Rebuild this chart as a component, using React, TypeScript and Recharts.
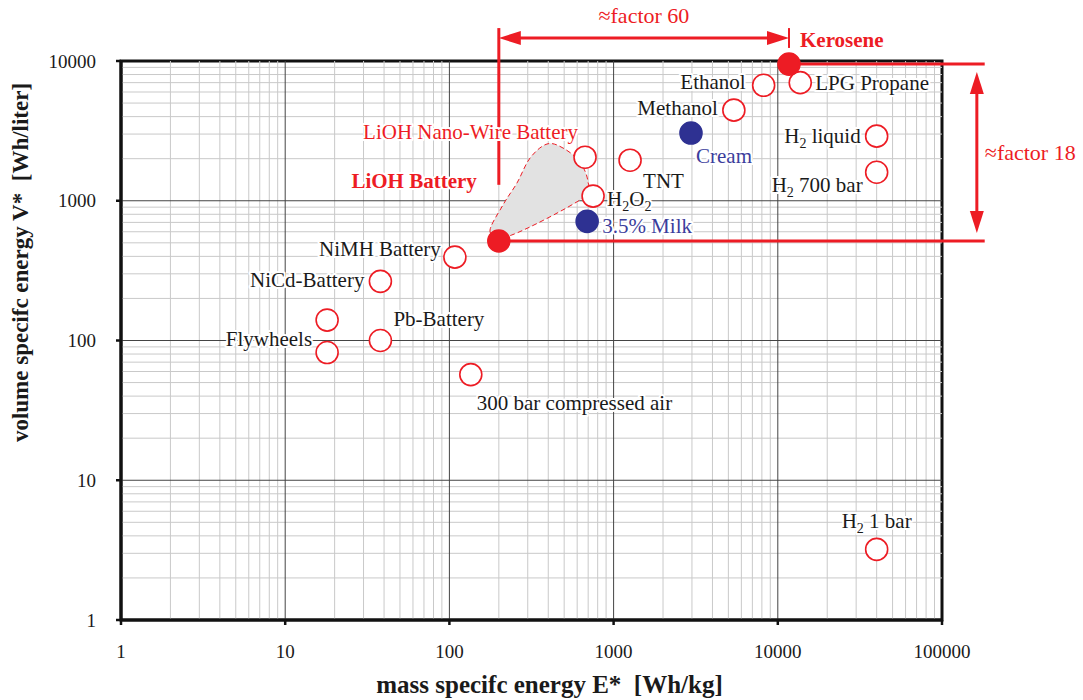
import React from 'react';
import { ScatterChart, Scatter, XAxis, YAxis, ReferenceLine, ReferenceArea } from 'recharts';

// axis ticks
const xDecades = [1, 10, 100, 1000, 10000, 100000];
const yDecades = [1, 10, 100, 1000, 10000];
const minorSteps = [2, 3, 4, 5, 6, 7, 8, 9];

// energy carriers (open red circles)
const openPoints = [
  { name: 'LPG Propane', x: 13700, y: 7000 },
  { name: 'Ethanol', x: 8200, y: 6700 },
  { name: 'Methanol', x: 5400, y: 4450 },
  { name: 'TNT', x: 1260, y: 1950 },
  { name: 'LiOH Nano-Wire Battery', x: 670, y: 2050 },
  { name: 'H2O2', x: 750, y: 1080 },
  { name: 'NiMH Battery', x: 108, y: 395 },
  { name: 'NiCd-Battery', x: 38, y: 265 },
  { name: 'Flywheels-top', x: 18, y: 140 },
  { name: 'Flywheels', x: 18, y: 82 },
  { name: 'Pb-Battery', x: 38, y: 100 },
  { name: '300 bar compressed air', x: 135, y: 57 },
  { name: 'H2 liquid', x: 40000, y: 2900 },
  { name: 'H2 700 bar', x: 40000, y: 1600 },
  { name: 'H2 1 bar', x: 40000, y: 3.2 },
];

// highlighted (filled red)
const keyPoints = [
  { name: 'Kerosene', x: 11700, y: 9500 },
  { name: 'LiOH Battery', x: 200, y: 515 },
];

// food (filled blue)
const foodPoints = [
  { name: 'Cream', x: 2960, y: 3050 },
  { name: '3.5% Milk', x: 690, y: 712 },
];

// outline of the LiOH battery potential region
const liohRegion = [
  { x: 177, y: 597 },
  { x: 212, y: 933 },
  { x: 258, y: 1340 },
  { x: 310, y: 2023 },
  { x: 393, y: 2547 },
  { x: 492, y: 2384 },
  { x: 624, y: 1893 },
  { x: 698, y: 1362 },
  { x: 651, y: 1047 },
  { x: 240, y: 569 },
];

const RED = '#ed1c24';
const NAVY = '#2e3192';
const BLUE_TEXT = '#3b3d9c';
const TEXT = '#1a1a1a';
const FONT = '"Liberation Serif", "DejaVu Serif", serif';

const kerosene = keyPoints[0];
const lioh = keyPoints[1];

// label placement relative to the marker
const labelPlacement: Record<string, { dx: number; dy: number; anchor: 'start' | 'end' | 'middle'; color?: string; bold?: boolean }> = {
  'Kerosene': { dx: 11, dy: -17, anchor: 'start', color: RED, bold: true },
  'LPG Propane': { dx: 15, dy: 7, anchor: 'start' },
  'Ethanol': { dx: -18, dy: 4, anchor: 'end' },
  'Methanol': { dx: -16, dy: 5, anchor: 'end' },
  'Cream': { dx: 5, dy: 30, anchor: 'start', color: BLUE_TEXT },
  'TNT': { dx: 13, dy: 28, anchor: 'start' },
  'LiOH Nano-Wire Battery': { dx: -7, dy: -18, anchor: 'end', color: RED },
  'H2O2': { dx: 14, dy: 10, anchor: 'start' },
  '3.5% Milk': { dx: 15, dy: 12, anchor: 'start', color: BLUE_TEXT },
  'LiOH Battery': { dx: -22, dy: -53, anchor: 'end', color: RED, bold: true },
  'NiMH Battery': { dx: -14, dy: -1, anchor: 'end' },
  'NiCd-Battery': { dx: -16, dy: 6, anchor: 'end' },
  'Flywheels': { dx: -15, dy: -7, anchor: 'end' },
  'Pb-Battery': { dx: 13, dy: -15, anchor: 'start' },
  '300 bar compressed air': { dx: 6, dy: 35, anchor: 'start' },
  'H2 liquid': { dx: -16, dy: 7, anchor: 'end' },
  'H2 700 bar': { dx: -14, dy: 20, anchor: 'end' },
  'H2 1 bar': { dx: 0, dy: -21, anchor: 'middle' },
};

// H2 / O2 with subscripts
function richText(s: string) {
  const parts = s.split(/(?<=[HO])2/);
  const out: React.ReactNode[] = [];
  parts.forEach((p, i) => {
    out.push(<tspan key={'t' + i} dy={i > 0 ? -5 : 0}>{p}</tspan>);
    if (i < parts.length - 1) {
      out.push(<tspan key={'s' + i} dy={5} fontSize={14}>2</tspan>);
    }
  });
  return out;
}

const makeDot = (fill: string, stroke: string) => (props: any) => {
  const { cx, cy, payload } = props;
  const p = labelPlacement[payload.name];
  return (
    <g>
      <circle cx={cx} cy={cy} r={11} fill={fill} stroke={stroke} strokeWidth={1.6} />
      {p && (
        <text
          x={cx + p.dx}
          y={cy + p.dy}
          textAnchor={p.anchor}
          fill={p.color || TEXT}
          fontWeight={p.bold ? 'bold' : 'normal'}
          fontSize={21}
          fontFamily={FONT}
          stroke="#fff"
          strokeWidth={4}
          paintOrder="stroke"
          strokeLinejoin="round"
        >
          {richText(payload.name)}
        </text>
      )}
    </g>
  );
};

// smooth closed outline through the region points
const regionOutline = (props: any) => {
  const pts: { x: number; y: number }[] = props.points || [];
  if (pts.length < 3) return <g />;
  const n = pts.length;
  let d = `M${pts[0].x},${pts[0].y}`;
  for (let i = 0; i < n; i++) {
    const p0 = pts[(i - 1 + n) % n];
    const p1 = pts[i];
    const p2 = pts[(i + 1) % n];
    const p3 = pts[(i + 2) % n];
    const c1x = p1.x + (p2.x - p0.x) / 6;
    const c1y = p1.y + (p2.y - p0.y) / 6;
    const c2x = p2.x - (p3.x - p1.x) / 6;
    const c2y = p2.y - (p3.y - p1.y) / 6;
    d += ` C${c1x},${c1y} ${c2x},${c2y} ${p2.x},${p2.y}`;
  }
  return <path d={d + 'Z'} fill="#e2e2e2" stroke={RED} strokeWidth={1} strokeDasharray="5 3" />;
};

// red arrow with heads, optional text
const arrowShape = (label: string, gap: number, labelSide: 'top' | 'right') => (props: any) => {
  const { x1, y1, x2, y2 } = props;
  const len = Math.hypot(x2 - x1, y2 - y1);
  const ux = (x2 - x1) / len;
  const uy = (y2 - y1) / len;
  const ax = x1 + ux * gap, ay = y1 + uy * gap;
  const bx = x2 - ux * gap, by = y2 - uy * gap;
  const hl = 22, hw = 7;
  const head = (tx: number, ty: number, dx: number, dy: number) =>
    `${tx},${ty} ${tx - dx * hl - dy * hw},${ty - dy * hl + dx * hw} ${tx - dx * hl + dy * hw},${ty - dy * hl - dx * hw}`;
  const mx = (x1 + x2) / 2, my = (y1 + y2) / 2;
  return (
    <g>
      <line x1={ax + ux * hl * 0.8} y1={ay + uy * hl * 0.8} x2={bx - ux * hl * 0.8} y2={by - uy * hl * 0.8} stroke={RED} strokeWidth={3} />
      <polygon points={head(bx, by, ux, uy)} fill={RED} />
      <polygon points={head(ax, ay, -ux, -uy)} fill={RED} />
      {labelSide === 'top' ? (
        <text x={mx} y={my - 15} textAnchor="middle" fill={RED} fontSize={22} fontFamily={FONT}>{label}</text>
      ) : (
        <text x={mx + 8} y={my + 7} textAnchor="start" fill={RED} fontSize={22} fontFamily={FONT}>{label}</text>
      )}
    </g>
  );
};

// annotation placement (data units)
const arrow60Y = 14600;
const markerTopY = 17200;
const liohMarkerBottomY = 1300;
const keroseneTickBottomY = 12400;
const rightLinesX = 182000;
const arrow18X = 163000;

const xMinor = xDecades.slice(0, -1).flatMap((d) => minorSteps.map((m) => d * m));
const yMinor = yDecades.slice(0, -1).flatMap((d) => minorSteps.map((m) => d * m));

export default function App() {
  return (
    <div style={{ position: 'absolute', left: 0, top: 0, background: '#fff' }}>
      <ScatterChart
        width={1083}
        height={700}
        margin={{ top: 61, right: 141, bottom: 0, left: 0 }}
        style={{ fontFamily: FONT }}
      >
        <XAxis
          dataKey="x"
          type="number"
          scale="log"
          domain={[1, 100000]}
          ticks={xDecades}
          interval={0}
          height={80}
          axisLine={{ stroke: '#111', strokeWidth: 3 }}
          tickLine={{ stroke: '#111', strokeWidth: 2.5 }}
          tickSize={5}
          tickMargin={20}
          tick={{ fill: TEXT, fontSize: 19, fontFamily: FONT }}
          label={{
            value: 'mass specifc energy E*\u2002[Wh/kg]',
            position: 'insideBottom',
            offset: 7,
            dx: 18,
            style: { fill: TEXT, fontSize: 25, fontWeight: 'bold', fontFamily: FONT },
          }}
        />
        <YAxis
          dataKey="y"
          type="number"
          scale="log"
          domain={[1, 10000]}
          ticks={yDecades}
          interval={0}
          width={121}
          axisLine={{ stroke: '#111', strokeWidth: 3 }}
          tickLine={{ stroke: '#111', strokeWidth: 2.5 }}
          tickSize={5}
          tickMargin={20}
          tick={{ fill: TEXT, fontSize: 19, fontFamily: FONT }}
          label={{
            value: 'volume specifc energy V*\u2002[Wh/liter]',
            angle: -90,
            position: 'insideLeft',
            offset: 20,
            dy: -78,
            style: { fill: TEXT, fontSize: 23, fontWeight: 'bold', fontFamily: FONT, textAnchor: 'middle' },
          }}
        />

        {xMinor.map((v) => (
          <ReferenceLine key={'xm' + v} x={v} stroke="#c9c9c9" strokeWidth={1} />
        ))}
        {yMinor.map((v) => (
          <ReferenceLine key={'ym' + v} y={v} stroke="#c9c9c9" strokeWidth={1} />
        ))}
        {xDecades.slice(1, -1).map((v) => (
          <ReferenceLine key={'xd' + v} x={v} stroke="#444" strokeWidth={1} />
        ))}
        {yDecades.slice(1, -1).map((v) => (
          <ReferenceLine key={'yd' + v} y={v} stroke="#444" strokeWidth={1} />
        ))}
        <ReferenceArea x1={1} x2={100000} y1={1} y2={10000} fill="none" stroke="#111" strokeWidth={3} ifOverflow="visible" />

        <Scatter
          data={liohRegion}
          isAnimationActive={false}
          shape={() => <g />}
          line={regionOutline}
          lineType="joint"
        />

        {/* factor 60 */}
        <ReferenceLine
          segment={[{ x: lioh.x, y: markerTopY }, { x: lioh.x, y: liohMarkerBottomY }]}
          stroke={RED}
          strokeWidth={3}
          ifOverflow="visible"
        />
        <ReferenceLine
          segment={[{ x: kerosene.x, y: markerTopY }, { x: kerosene.x, y: keroseneTickBottomY }]}
          stroke={RED}
          strokeWidth={2}
          ifOverflow="visible"
        />
        <ReferenceLine
          segment={[{ x: lioh.x, y: arrow60Y }, { x: kerosene.x, y: arrow60Y }]}
          ifOverflow="visible"
          shape={arrowShape('\u2248factor 60', 0, 'top')}
        />
        {/* factor 18 */}
        <ReferenceLine
          segment={[{ x: kerosene.x, y: kerosene.y }, { x: rightLinesX, y: kerosene.y }]}
          stroke={RED}
          strokeWidth={3}
          ifOverflow="visible"
        />
        <ReferenceLine
          segment={[{ x: lioh.x, y: lioh.y }, { x: rightLinesX, y: lioh.y }]}
          stroke={RED}
          strokeWidth={3}
          ifOverflow="visible"
        />
        <ReferenceLine
          segment={[{ x: arrow18X, y: kerosene.y }, { x: arrow18X, y: lioh.y }]}
          ifOverflow="visible"
          shape={arrowShape('\u2248factor 18', 8, 'right')}
        />

        <Scatter data={openPoints} isAnimationActive={false} shape={makeDot('#fff', RED)} />
        <Scatter data={foodPoints} isAnimationActive={false} shape={makeDot(NAVY, NAVY)} />
        <Scatter data={keyPoints} isAnimationActive={false} shape={makeDot(RED, RED)} />
      </ScatterChart>
    </div>
  );
}
